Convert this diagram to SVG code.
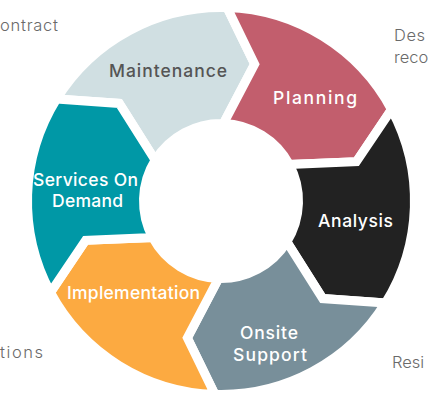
<svg xmlns="http://www.w3.org/2000/svg" width="431" height="401" viewBox="0 0 431 401">
<style>
.seg{stroke:#ffffff;stroke-width:9;stroke-linejoin:miter;stroke-miterlimit:10}
.lbl{font-family:"Inter","Open Sans",sans-serif;font-size:17.5px;font-weight:500;text-anchor:middle}
.out{font-family:"Inter","Open Sans",sans-serif;font-size:16.5px;font-weight:300;fill:#6a6a6a}
</style>
<rect width="431" height="401" fill="#ffffff"/>
<g id="outer-labels">
<text class="out" x="58" y="31" text-anchor="end" textLength="58" lengthAdjust="spacing">ontract</text>
<text class="out" x="394" y="41" textLength="31" lengthAdjust="spacing">Des</text>
<text class="out" x="394" y="63">reco</text>
<text class="out" x="43" y="358" text-anchor="end" textLength="43" lengthAdjust="spacing">tions</text>
<text class="out" x="392" y="368">Resi</text>
</g>
<g id="connectors"></g>
<g id="maintenance">
<path class="seg" fill="#d0dfe2" d="M56.55,99.03 A193.5,193.5 0 0 1 227.08,7.59 L254.63,64.07 L223.43,123.54 A77.5,77.5 0 0 0 155.13,160.16 L119.23,103.41 Z"/>
<text class="lbl" x="168" y="77" fill="#555555" textLength="118" lengthAdjust="spacing">Maintenance</text>
</g>
<g id="planning">
<path class="seg" fill="#c25e6d" d="M227.08,7.59 A193.5,193.5 0 0 1 391.53,109.56 L356.40,161.66 L289.30,164.38 A77.5,77.5 0 0 0 223.43,123.54 L254.63,64.07 Z"/>
<text class="lbl" x="315" y="103.5" fill="#ffffff" textLength="84" lengthAdjust="spacing">Planning</text>
</g>
<g id="analysis">
<path class="seg" fill="#222222" d="M391.53,109.56 A193.5,193.5 0 0 1 385.45,302.97 L322.77,298.59 L286.87,241.84 A77.5,77.5 0 0 0 289.30,164.38 L356.40,161.66 Z"/>
<text class="lbl" x="355.5" y="226.5" fill="#ffffff" textLength="75" lengthAdjust="spacing">Analysis</text>
</g>
<g id="onsite-support">
<path class="seg" fill="#788f9a" d="M385.45,302.97 A193.5,193.5 0 0 1 214.92,394.41 L187.37,337.93 L218.57,278.46 A77.5,77.5 0 0 0 286.87,241.84 L322.77,298.59 Z"/>
<text class="lbl" x="269" y="338.5" fill="#ffffff" textLength="58" lengthAdjust="spacing">Onsite</text>
<text class="lbl" x="270" y="360.5" fill="#ffffff" textLength="74" lengthAdjust="spacing">Support</text>
</g>
<g id="implementation">
<path class="seg" fill="#fcaa41" d="M214.92,394.41 A193.5,193.5 0 0 1 50.47,292.44 L85.60,240.34 L152.70,237.62 A77.5,77.5 0 0 0 218.57,278.46 L187.37,337.93 Z"/>
<text class="lbl" x="133.5" y="298.5" fill="#ffffff" textLength="133" lengthAdjust="spacing">Implementation</text>
</g>
<g id="services-on-demand">
<path class="seg" fill="#0098a6" d="M50.47,292.44 A193.5,193.5 0 0 1 56.55,99.03 L119.23,103.41 L155.13,160.16 A77.5,77.5 0 0 0 152.70,237.62 L85.60,240.34 Z"/>
<text class="lbl" x="85.5" y="185.5" fill="#ffffff" textLength="105" lengthAdjust="spacing">Services On</text>
<text class="lbl" x="87.5" y="206.5" fill="#ffffff" textLength="71" lengthAdjust="spacing">Demand</text>
</g>
</svg>
